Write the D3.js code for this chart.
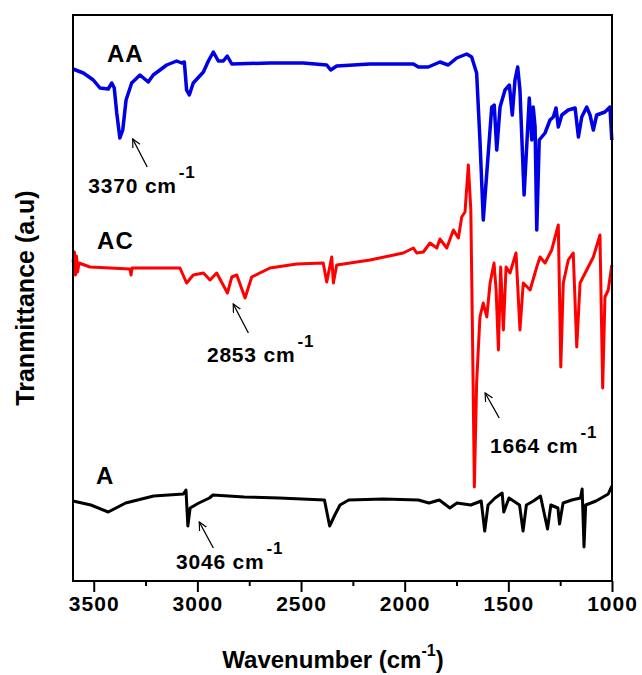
<!DOCTYPE html>
<html>
<head>
<meta charset="utf-8">
<script src="https://cdn.jsdelivr.net/npm/d3@7/dist/d3.min.js"></script>
<style>
  body { margin: 0; background: #fff; }
  svg text { font-family: "Liberation Sans", Arial, sans-serif; font-weight: bold; fill: #000; }
</style>
</head>
<body>
<div id="chart"></div>
<script>
// FTIR spectra, [wavenumber (cm-1), transmittance (a.u.)]
const spectrumAA = [
  [3600,512],[3550,508],[3502,501],[3470,493],[3430,492],[3413,498],[3401,493],[3389,468],
  [3374,443],[3360,451],[3344,481],[3317,498],[3277,506],[3237,499],[3213,506],[3148,516],
  [3100,520],[3076,518],[3063,519],[3052,491],[3039,486],[3020,498],[2971,509],[2947,520],
  [2923,529],[2899,520],[2875,520],[2856,525],[2834,517],[2650,518],[2489,518],[2376,516],
  [2357,511],[2328,515],[2167,517],[1958,517],[1934,514],[1886,514],[1830,519],[1790,516],
  [1749,523],[1701,527],[1677,524],[1653,508],[1637,441],[1621,361],[1604,408],[1580,474],
  [1568,476],[1556,431],[1540,474],[1516,491],[1495,496],[1481,466],[1468,501],[1455,514],
  [1444,491],[1424,386],[1408,448],[1399,483],[1387,441],[1380,474],[1371,454],[1363,351],
  [1351,441],[1323,448],[1299,461],[1283,464],[1270,473],[1259,454],[1242,466],[1211,471],
  [1178,473],[1162,444],[1146,464],[1122,474],[1106,466],[1090,451],[1074,466],[1034,469],
  [1010,474],[1001,441]
];

const spectrumAC = [
  [3600,319],[3593,329],[3588,306],[3583,325],[3578,309],[3571,318],[3518,314],[3325,312],
  [3320,306],[3315,313],[3084,313],[3052,298],[3020,306],[2971,308],[2939,301],[2907,308],
  [2855,288],[2834,304],[2810,306],[2770,283],[2738,304],[2650,313],[2521,317],[2393,318],
  [2376,299],[2352,324],[2344,298],[2328,316],[2167,321],[2007,328],[1958,333],[1942,328],
  [1910,329],[1878,338],[1845,333],[1830,342],[1797,333],[1765,351],[1741,343],[1725,364],
  [1709,369],[1693,416],[1681,371],[1672,231],[1664,94],[1653,198],[1637,264],[1621,278],
  [1604,264],[1588,298],[1569,318],[1559,291],[1548,231],[1537,314],[1524,251],[1511,314],
  [1492,308],[1463,328],[1444,251],[1428,298],[1395,291],[1363,314],[1347,324],[1323,318],
  [1291,331],[1259,356],[1247,214],[1235,298],[1211,321],[1187,328],[1170,234],[1154,298],
  [1122,311],[1090,324],[1058,346],[1045,193],[1034,284],[1018,291],[1001,316]
];

const spectrumA = [
  [3600,80],[3514,76],[3430,69],[3346,78],[3211,85],[3068,87],[3055,91],[3046,55],
  [3035,73],[2993,78],[2942,83],[2925,86],[2774,84],[2606,83],[2387,81],[2362,55],
  [2337,66],[2312,76],[2270,81],[2102,82],[1934,81],[1883,78],[1833,81],[1782,73],
  [1748,78],[1681,76],[1631,80],[1614,50],[1598,76],[1564,83],[1530,88],[1522,69],
  [1497,83],[1446,76],[1429,50],[1413,76],[1379,80],[1345,85],[1311,52],[1295,76],
  [1261,73],[1253,57],[1236,78],[1194,81],[1152,83],[1144,92],[1135,34],[1127,76],
  [1077,80],[1018,87],[1001,95]
];

const seriesNames = ["AA", "AC", "A"];
const seriesColors = ["#0000e6", "#ff0000", "#000000"];
// label anchor for each curve name [wavenumber, a.u.]
const nameAnchors = [[3436,519],[3484,332],[3489,97]];

// peak annotations: text, tip of arrow, tail of arrow, text start
const peakLabels = ["3370", "2853", "1664", "3046"];
const arrowTips  = [[3312,442],[2827,277],[1612,188],[2991,59]];
const arrowTails = [[3242,414],[2754,248],[1544,163],[2923,33]];
const textStarts = [[3526,388],[2954,219],[1588,128],[3103,12]];

const majorTicks = [3500, 3000, 2500, 2000, 1500, 1000];
const minorTicks = [3250, 2750, 2250, 1750, 1250];

const width = 642, height = 675;
const margin = {left: 73, right: 30, top: 15, bottom: 94};

const svg = d3.select("#chart").append("svg")
  .attr("width", width).attr("height", height);

const x = d3.scaleLinear().domain([3600, 1000]).range([margin.left, width - margin.right]);
const y = d3.scaleLinear().domain([0, 566]).range([height - margin.bottom, margin.top]);

// arrow marker
svg.append("defs").append("marker")
  .attr("id", "arrow")
  .attr("viewBox", "0 -5 10 10")
  .attr("refX", 9).attr("refY", 0)
  .attr("markerUnits", "userSpaceOnUse")
  .attr("markerWidth", 9).attr("markerHeight", 9)
  .attr("orient", "auto")
  .append("path")
  .attr("d", "M0,-4.5L9,0L0,4.5")
  .attr("fill", "none").attr("stroke", "#000").attr("stroke-width", 1.3);

// curves
const line = d3.line().x(d => x(d[0])).y(d => y(d[1]));
const spectra = [spectrumAA, spectrumAC, spectrumA];
svg.append("g").selectAll("path")
  .data(spectra)
  .join("path")
  .attr("d", line)
  .attr("fill", "none")
  .attr("stroke", (d, i) => seriesColors[i])
  .attr("stroke-width", (d, i) => i === 0 ? 3.5 : 3)
  .attr("stroke-linejoin", "round");

// frame
svg.append("rect")
  .attr("x", x(3600)).attr("y", y(566))
  .attr("width", x(1000) - x(3600)).attr("height", y(0) - y(566))
  .attr("fill", "none").attr("stroke", "#000").attr("stroke-width", 2);

// x axis
const xAxis = svg.append("g").attr("transform", `translate(0,${y(0)})`);
xAxis.call(d3.axisBottom(x).tickValues(majorTicks).tickSize(11).tickSizeOuter(0).tickPadding(4).tickFormat(d3.format("d")));
xAxis.select(".domain").remove();
xAxis.selectAll(".tick line").attr("stroke-width", 2);
xAxis.selectAll(".tick text")
  .attr("font-size", 21).attr("letter-spacing", "1px")
  .attr("font-family", "'Liberation Sans', Arial, sans-serif").attr("font-weight", "bold");
const xMinor = svg.append("g").attr("transform", `translate(0,${y(0)})`);
xMinor.call(d3.axisBottom(x).tickValues(minorTicks).tickSize(5).tickFormat(""));
xMinor.select(".domain").remove();
xMinor.selectAll(".tick line").attr("stroke-width", 2);

// axis titles
const xTitle = svg.append("text")
  .attr("x", 333).attr("y", 668)
  .attr("text-anchor", "middle").attr("font-size", 24);
xTitle.append("tspan").text("Wavenumber (cm");
xTitle.append("tspan").attr("font-size", 16).attr("dy", -12).text("-1");
xTitle.append("tspan").attr("dy", 12).text(")");

svg.append("text")
  .attr("transform", `translate(34,${(y(0) + y(566)) / 2 + 0})rotate(-90)`)
  .attr("text-anchor", "middle").attr("font-size", 25)
  .text("Tranmittance (a.u)");

// curve names
svg.append("g").selectAll("text")
  .data(seriesNames)
  .join("text")
  .attr("x", (d, i) => x(nameAnchors[i][0]))
  .attr("y", (d, i) => y(nameAnchors[i][1]))
  .attr("font-size", 24).attr("letter-spacing", "1px")
  .text(d => d);

// peak annotations
const ann = svg.append("g").selectAll("g")
  .data(peakLabels)
  .join("g");

ann.append("line")
  .attr("x1", (d, i) => x(arrowTails[i][0])).attr("y1", (d, i) => y(arrowTails[i][1]))
  .attr("x2", (d, i) => x(arrowTips[i][0])).attr("y2", (d, i) => y(arrowTips[i][1]))
  .attr("stroke", "#000").attr("stroke-width", 1.3)
  .attr("marker-end", "url(#arrow)");

const annText = ann.append("text")
  .attr("x", (d, i) => x(textStarts[i][0]))
  .attr("y", (d, i) => y(textStarts[i][1]))
  .attr("font-size", 21).attr("letter-spacing", "0.8px");
annText.append("tspan").text(d => d + " cm");
annText.append("tspan").attr("font-size", 17).attr("dy", -15).attr("dx", 2).text("-1");
</script>
</body>
</html>
